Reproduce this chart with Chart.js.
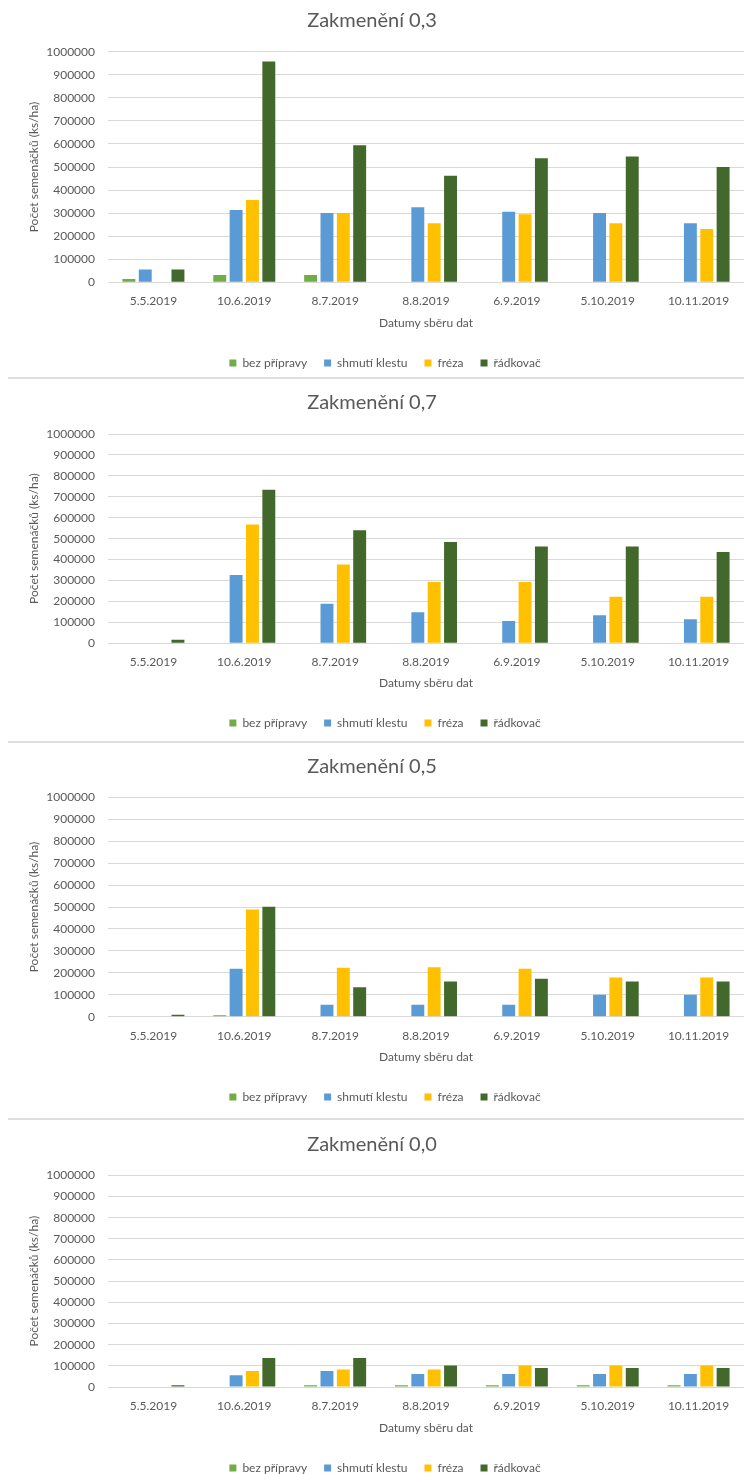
<!DOCTYPE html>
<html>
<head>
<meta charset="utf-8">
<script src="https://cdn.jsdelivr.net/npm/chart.js@4.4.1/dist/chart.umd.min.js"></script>
<style>
  html, body { margin: 0; padding: 0; background: #fff; }
  #page { position: relative; width: 744px; height: 1474px; overflow: hidden; }
  .box { position: absolute; left: 0; width: 744px; }
  .sep { position: absolute; left: 8px; right: 0; height: 2px; background: #dedede; z-index: 2; }
</style>
</head>
<body>
<div id="page">
  <div class="box" id="b1"><canvas id="c1"></canvas></div>
  <div class="box" id="b2"><canvas id="c2"></canvas></div>
  <div class="box" id="b3"><canvas id="c3"></canvas></div>
  <div class="box" id="b4"><canvas id="c4"></canvas></div>
  <div class="sep" style="top:377px"></div>
  <div class="sep" style="top:741px"></div>
  <div class="sep" style="top:1118px"></div>
</div>
<script>
// data
const dates = ['5.5.2019', '10.6.2019', '8.7.2019', '8.8.2019', '6.9.2019', '5.10.2019', '10.11.2019'];
const seriesNames = ['bez přípravy', 'shmutí klestu', 'fréza', 'řádkovač'];
const yTicks = [0, 100000, 200000, 300000, 400000, 500000, 600000, 700000, 800000, 900000, 1000000];

// Zakmenění 0,3
const z03Bez = [14000, 32000, 32000, 0, 0, 0, 0];
const z03Shmuti = [56000, 314000, 300000, 325000, 306000, 300000, 256000];
const z03Freza = [0, 357000, 300000, 256000, 295000, 256000, 231000];
const z03Radkovac = [56000, 957000, 594000, 462000, 538000, 545000, 500000];

// Zakmenění 0,7
const z07Bez = [0, 0, 0, 0, 0, 0, 0];
const z07Shmuti = [0, 326000, 189000, 148000, 107000, 134000, 115000];
const z07Freza = [0, 568000, 376000, 293000, 293000, 223000, 223000];
const z07Radkovac = [17000, 734000, 540000, 484000, 463000, 463000, 436000];

// Zakmenění 0,5
const z05Bez = [0, 7000, 0, 0, 0, 0, 0];
const z05Shmuti = [0, 219000, 55000, 55000, 55000, 100000, 100000];
const z05Freza = [0, 489000, 223000, 225000, 219000, 179000, 179000];
const z05Radkovac = [9000, 501000, 134000, 160000, 173000, 160000, 160000];

// Zakmenění 0,0
const z00Bez = [0, 0, 8000, 8000, 8000, 8000, 8000];
const z00Shmuti = [0, 55000, 76000, 61000, 61000, 61000, 61000];
const z00Freza = [0, 76000, 83000, 83000, 101000, 101000, 101000];
const z00Radkovac = [8000, 137000, 137000, 101000, 90000, 90000, 90000];

const seriesColors = ['#70ad47', '#5b9bd5', '#ffc000', '#43682b'];
const textColor = '#595959';
const gridColor = '#d9d9d9';

Chart.defaults.font.family = 'Lato, "Noto Sans", sans-serif';
Chart.defaults.color = textColor;
Chart.defaults.animation = false;

// excel puts the legend a little right of the canvas centre
const legendShift = {
    id: 'legendShift',
    afterLayout(chart) {
        chart.legend.left += 13;
        chart.legend.right += 13;
    }
};

// lay = vertical positions inside the box: title centre, plot top, zero line, legend centre
function makeChart(id, boxTop, titleText, values, lay) {
    const legendH = 39;            // 12px font + 17 padding + 10
    const H = Math.round(lay.legend + 16);
    const box = document.getElementById('b' + id);
    box.style.top = boxTop + 'px';
    box.style.height = H + 'px';
    const canvas = document.getElementById('c' + id);
    canvas.width = 744;
    canvas.height = H;
    canvas.style.width = '744px';
    canvas.style.height = H + 'px';

    const titleLH = 20 * 1.2;

    return new Chart(canvas, {
        type: 'bar',
        data: {
            labels: dates,
            datasets: values.map((v, i) => ({
                label: seriesNames[i],
                data: v,
                backgroundColor: seriesColors[i],
                borderWidth: 0,
                categoryPercentage: 0.72,
                barPercentage: 0.79
            }))
        },
        options: {
            responsive: false,
            maintainAspectRatio: false,
            layout: { padding: 0 },
            scales: {
                x: {
                    grid: { display: false, drawTicks: false },
                    border: { display: true, color: gridColor, width: 1 },
                    ticks: { color: textColor, font: { size: 12 }, padding: 12, maxRotation: 0, autoSkip: false },
                    title: {
                        display: true,
                        text: 'Datumy sběru dat',
                        color: textColor,
                        font: { size: 12 },
                        padding: { top: 7, bottom: 10 }
                    },
                    afterFit: function(scale) {
                        scale.height = (H - legendH) - lay.zero;
                    }
                },
                y: {
                    min: 0,
                    max: 1000000,
                    afterBuildTicks: function(scale) {
                        scale.ticks = yTicks.map(v => ({ value: v }));
                    },
                    grid: { color: gridColor, lineWidth: 1, drawTicks: false },
                    border: { display: false },
                    ticks: {
                        color: textColor,
                        font: { size: 12 },
                        padding: 13,
                        callback: function(value) { return String(value); }
                    },
                    title: {
                        display: true,
                        text: 'Počet semenáčků (ks/ha)',
                        color: textColor,
                        font: { size: 12 },
                        padding: { top: 27, bottom: 0 }
                    },
                    afterFit: function(scale) {
                        scale.width = 108;
                    }
                }
            },
            plugins: {
                title: {
                    display: true,
                    text: titleText,
                    color: textColor,
                    font: { size: 20, weight: 'normal', lineHeight: 1.2 },
                    padding: {
                        top: lay.title - titleLH / 2,
                        bottom: lay.plotTop - lay.title - titleLH / 2
                    }
                },
                legend: {
                    position: 'bottom',
                    labels: {
                        color: textColor,
                        font: { size: 12 },
                        boxWidth: 7,
                        boxHeight: 7,
                        padding: 17
                    }
                },
                tooltip: { enabled: false }
            }
        },
        plugins: [legendShift]
    });
}

makeChart(1, 0, 'Zakmenění 0,3', [z03Bez, z03Shmuti, z03Freza, z03Radkovac],
    { title: 20.7, plotTop: 51.7, zero: 282.3, legend: 362.7 });
makeChart(2, 379, 'Zakmenění 0,7', [z07Bez, z07Shmuti, z07Freza, z07Radkovac],
    { title: 23.7, plotTop: 55, zero: 264.3, legend: 344 });
makeChart(3, 742, 'Zakmenění 0,5', [z05Bez, z05Shmuti, z05Freza, z05Radkovac],
    { title: 24.7, plotTop: 55.3, zero: 274.7, legend: 355.3 });
makeChart(4, 1120, 'Zakmenění 0,0', [z00Bez, z00Shmuti, z00Freza, z00Radkovac],
    { title: 25, plotTop: 55.3, zero: 267, legend: 347.7 });
</script>
</body>
</html>
